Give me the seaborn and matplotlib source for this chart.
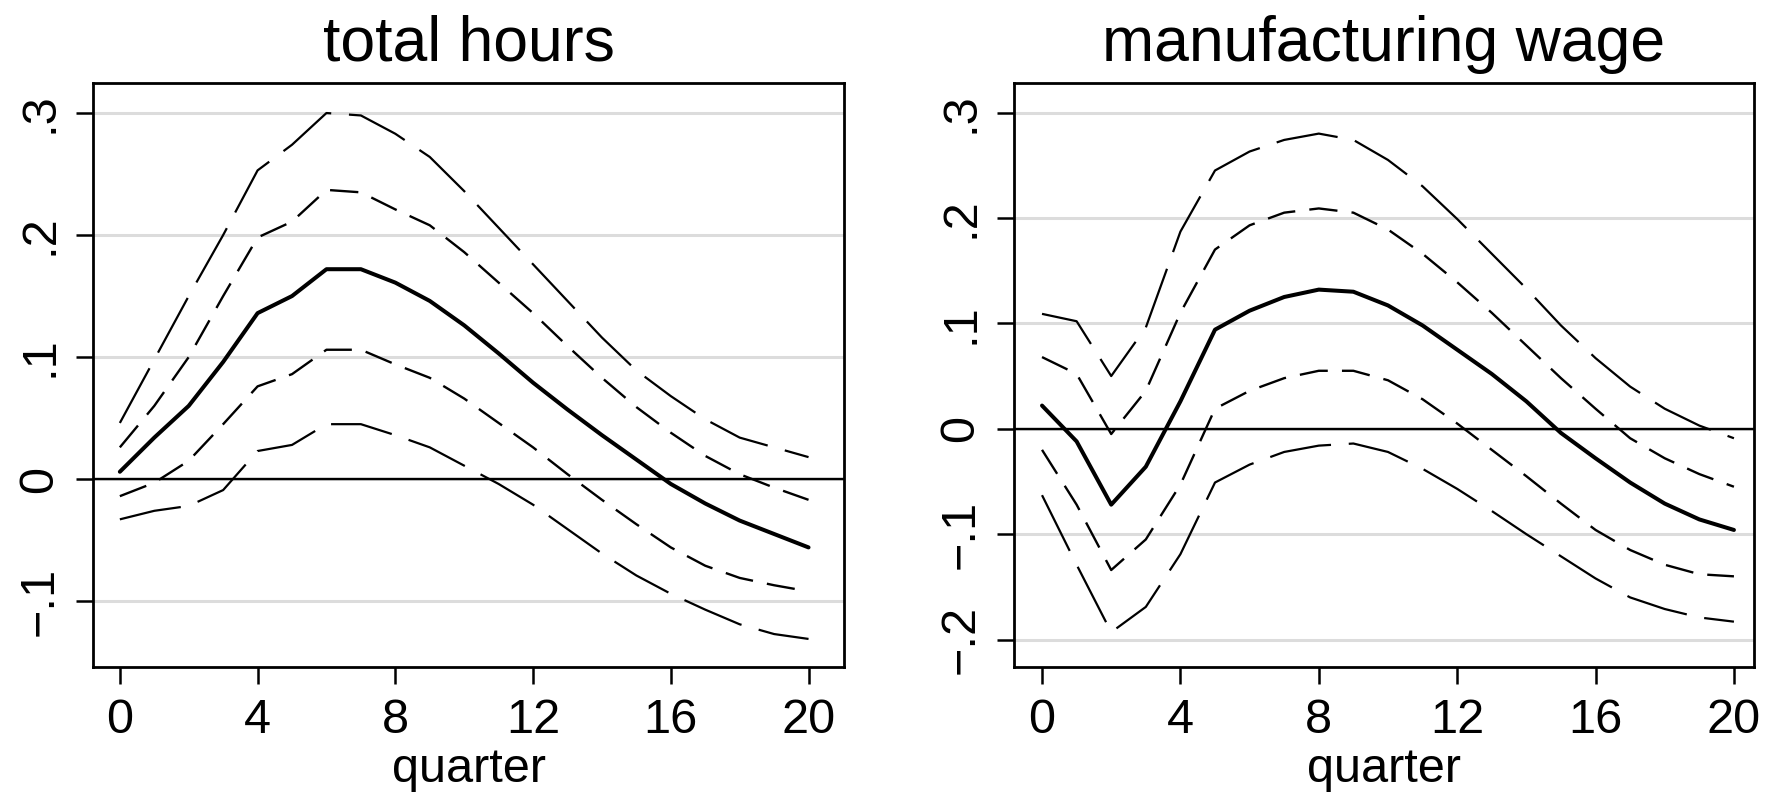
import numpy as np
import pandas as pd
import matplotlib
matplotlib.use("Agg")
import matplotlib.pyplot as plt
import seaborn as sns

quarters = list(range(21))

# total hours
th_center = [0.006, 0.034, 0.060, 0.096, 0.136, 0.150, 0.172, 0.172, 0.161, 0.146, 0.126,
             0.103, 0.079, 0.057, 0.036, 0.016, -0.004, -0.020, -0.034, -0.045, -0.056]
th_upper_in = [0.026, 0.060, 0.100, 0.150, 0.198, 0.211, 0.237, 0.235, 0.221, 0.208, 0.186,
               0.161, 0.136, 0.109, 0.083, 0.059, 0.038, 0.019, 0.004, -0.007, -0.017]
th_upper_out = [0.046, 0.098, 0.150, 0.200, 0.253, 0.274, 0.300, 0.298, 0.283, 0.264, 0.236,
                0.206, 0.176, 0.146, 0.116, 0.089, 0.068, 0.049, 0.034, 0.026, 0.018]
th_lower_in = [-0.014, -0.003, 0.015, 0.045, 0.076, 0.086, 0.106, 0.106, 0.094, 0.083, 0.066,
               0.046, 0.026, 0.004, -0.017, -0.037, -0.056, -0.071, -0.081, -0.087, -0.092]
th_lower_out = [-0.033, -0.026, -0.022, -0.009, 0.023, 0.028, 0.045, 0.045, 0.036, 0.026, 0.011,
                -0.004, -0.021, -0.041, -0.061, -0.079, -0.094, -0.107, -0.119, -0.127, -0.131]

# manufacturing wage
mw_center = [0.022, -0.012, -0.072, -0.036, 0.026, 0.094, 0.112, 0.125, 0.132, 0.130, 0.117,
             0.098, 0.075, 0.052, 0.026, -0.004, -0.028, -0.051, -0.071, -0.086, -0.096]
mw_upper_in = [0.068, 0.052, -0.005, 0.036, 0.110, 0.170, 0.193, 0.205, 0.209, 0.205, 0.189,
               0.166, 0.139, 0.110, 0.079, 0.048, 0.019, -0.009, -0.028, -0.043, -0.055]
mw_upper_out = [0.109, 0.102, 0.050, 0.096, 0.187, 0.245, 0.263, 0.274, 0.280, 0.274, 0.255,
                0.230, 0.199, 0.166, 0.133, 0.098, 0.067, 0.040, 0.019, 0.003, -0.009]
mw_lower_in = [-0.020, -0.072, -0.134, -0.105, -0.053, 0.019, 0.036, 0.048, 0.055, 0.055, 0.046,
               0.028, 0.005, -0.020, -0.045, -0.071, -0.096, -0.115, -0.129, -0.138, -0.140]
mw_lower_out = [-0.063, -0.129, -0.193, -0.169, -0.119, -0.051, -0.034, -0.022, -0.016, -0.014, -0.022,
                -0.038, -0.057, -0.078, -0.100, -0.121, -0.142, -0.160, -0.171, -0.179, -0.183]

titles = ["total hours", "manufacturing wage"]
x_ticks = [0, 4, 8, 12, 16, 20]
left_yticks = [-0.1, 0.0, 0.1, 0.2, 0.3]
left_yticklabels = ["\u2212.1", "0", ".1", ".2", ".3"]
right_yticks = [-0.2, -0.1, 0.0, 0.1, 0.2, 0.3]
right_yticklabels = ["\u2212.2", "\u2212.1", "0", ".1", ".2", ".3"]
xlabel = "quarter"

sns.set_style("white")
plt.rcParams["font.family"] = ["Liberation Sans", "DejaVu Sans"]
plt.rcParams["text.color"] = "black"
plt.rcParams["axes.labelcolor"] = "black"
plt.rcParams["xtick.color"] = "black"
plt.rcParams["ytick.color"] = "black"

fig = plt.figure(figsize=(17.66, 7.93), dpi=100)
ax1 = fig.add_axes([93 / 1766, 126 / 793, 751 / 1766, 584 / 793])
ax2 = fig.add_axes([1014 / 1766, 126 / 793, 740 / 1766, 584 / 793])

panels = [
    (ax1, th_center, th_upper_in, th_upper_out, th_lower_in, th_lower_out,
     left_yticks, left_yticklabels, (-0.154, 0.3246), (-0.78, 21.03)),
    (ax2, mw_center, mw_upper_in, mw_upper_out, mw_lower_in, mw_lower_out,
     right_yticks, right_yticklabels, (-0.226, 0.328), (-0.81, 20.58)),
]

inner_ls = (0, (12, 6))
outer_ls = (0, (28, 8))

for i, (ax, c, ui, uo, li, lo, yt, ytl, ylim, xlim) in enumerate(panels):
    ax.set_ylim(*ylim)
    ax.set_xlim(*xlim)
    ax.set_yticks(yt)
    ax.set_yticklabels(ytl, rotation=90, va="center")
    ax.set_xticks(x_ticks)
    ax.yaxis.grid(True, color="#dcdcdc", linewidth=2.2)
    ax.xaxis.grid(False)
    ax.set_axisbelow(True)
    ax.axhline(0, color="black", linewidth=1.7, zorder=2)
    df = pd.DataFrame({"quarter": quarters, "c": c, "ui": ui, "uo": uo, "li": li, "lo": lo})
    for col in ["uo", "lo"]:
        sns.lineplot(data=df, x="quarter", y=col, ax=ax, color="black", linewidth=1.6,
                     linestyle=outer_ls, zorder=3)
    for col in ["ui", "li"]:
        sns.lineplot(data=df, x="quarter", y=col, ax=ax, color="black", linewidth=1.7,
                     linestyle=inner_ls, zorder=3)
    sns.lineplot(data=df, x="quarter", y="c", ax=ax, color="black", linewidth=2.9, zorder=4)
    ax.set_ylabel("")
    ax.set_xlabel(xlabel, fontsize=35, labelpad=3, color="black")
    ax.set_title(titles[i], fontsize=45, pad=16, color="black")
    for s in ax.spines.values():
        s.set_visible(True)
        s.set_color("black")
        s.set_linewidth(2.0)
    ax.tick_params(axis="both", which="major", labelsize=35, length=12, width=1.8,
                   color="black", labelcolor="black", direction="out")
    ax.tick_params(axis="x", pad=10)
    ax.tick_params(axis="y", pad=10)
    ax.tick_params(left=True, bottom=True)

fig.savefig("out.png", dpi=100, facecolor="white")
